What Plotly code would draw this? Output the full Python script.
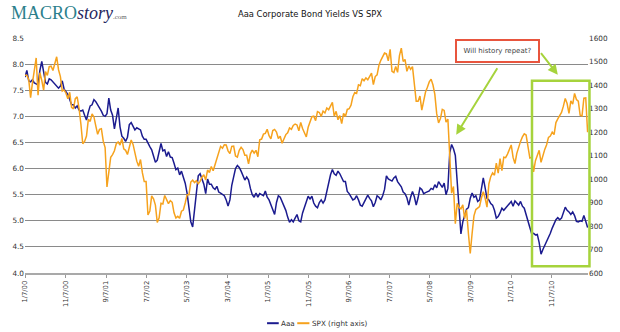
import plotly.graph_objects as go
import pandas as pd

# ---- data (one value every 14 days, Fridays, 2000-01-07 .. 2011-08-05) ----
aaa_2000 = [7.75, 7.88, 7.68, 7.66, 7.70, 7.64, 7.62, 7.60, 7.88, 8.05, 7.85, 7.65, 7.62,
            7.72, 7.70, 7.66, 7.60, 7.56, 7.54, 7.58, 7.68, 7.52, 7.48, 7.42, 7.32, 7.22]
aaa_2001 = [7.22, 7.16, 7.20, 7.12, 7.10, 7.12, 7.02, 6.93, 7.08, 7.20, 7.22, 7.32, 7.28,
            7.22, 7.18, 7.10, 7.02, 7.00, 7.05, 7.35, 7.12, 7.02, 6.76, 7.00, 7.16, 6.80]
aaa_2002 = [6.62, 6.58, 6.52, 6.60, 6.84, 6.88, 6.80, 6.74, 6.78, 6.76, 6.74, 6.62, 6.56,
            6.56, 6.48, 6.42, 6.36, 6.26, 6.12, 6.16, 6.30, 6.48, 6.34, 6.36, 6.23, 6.32]
aaa_2003 = [6.22, 6.21, 6.10, 5.98, 6.01, 5.88, 5.95, 5.82, 5.72, 5.53, 5.25, 4.98, 4.88,
            5.22, 5.62, 5.86, 5.90, 5.80, 5.70, 5.52, 5.80, 5.70, 5.70, 5.63, 5.60, 5.66]
aaa_2004 = [5.55, 5.53, 5.50, 5.48, 5.40, 5.28, 5.40, 5.68, 5.84, 6.00, 6.06, 6.02, 5.95,
            5.88, 5.78, 5.84, 5.78, 5.62, 5.50, 5.45, 5.53, 5.45, 5.52, 5.50, 5.48, 5.57]
aaa_2005 = [5.45, 5.40, 5.30, 5.18, 5.12, 5.35, 5.48, 5.45, 5.36, 5.28, 5.20, 5.07, 4.97,
            5.02, 4.98, 5.05, 5.12, 5.00, 4.98, 5.15, 5.25, 5.38, 5.47, 5.42, 5.47, 5.34]
aaa_2006 = [5.28, 5.25, 5.35, 5.40, 5.34, 5.40, 5.55, 5.75, 5.88, 5.98, 5.90, 5.87, 5.95,
            5.90, 5.82, 5.75, 5.75, 5.56, 5.52, 5.45, 5.40, 5.42, 5.48, 5.40, 5.30, 5.28]
aaa_2007 = [5.36, 5.42, 5.49, 5.43, 5.38, 5.27, 5.35, 5.48, 5.45, 5.40, 5.48, 5.60, 5.86,
            5.80, 5.78, 5.76, 5.82, 5.85, 5.75, 5.70, 5.65, 5.55, 5.52, 5.44, 5.30, 5.45]
aaa_2008 = [5.56, 5.46, 5.30, 5.44, 5.63, 5.60, 5.52, 5.54, 5.56, 5.57, 5.62, 5.60, 5.69,
            5.63, 5.75, 5.70, 5.64, 5.72, 5.50, 5.62, 6.30, 6.46, 6.38, 6.25, 5.75, 5.25]
aaa_2009 = [4.75, 4.98, 5.10, 5.22, 5.25, 5.43, 5.53, 5.45, 5.48, 5.37, 5.40, 5.60, 5.82,
            5.63, 5.43, 5.40, 5.33, 5.30, 5.20, 5.05, 5.08, 5.15, 5.24, 5.20, 5.24, 5.28]
aaa_2010 = [5.34, 5.37, 5.28, 5.38, 5.34, 5.30, 5.37, 5.28, 5.24, 5.10, 4.96, 4.87, 4.75,
            4.76, 4.73, 4.74, 4.58, 4.36, 4.45, 4.52, 4.60, 4.68, 4.76, 4.86, 4.95, 5.02]
aaa_2011 = [5.06, 5.02, 5.05, 5.18, 5.26, 5.20, 5.17, 5.12, 5.17, 5.10, 4.99, 4.98, 5.00,
            4.99, 5.10, 4.99, 4.87]

spx_2000 = [1441, 1441, 1424, 1346, 1409, 1464, 1515, 1357, 1452, 1420, 1378, 1457, 1441,
            1478, 1480, 1462, 1491, 1520, 1465, 1436, 1374, 1379, 1365, 1341, 1369, 1305]
spx_2001 = [1298, 1342, 1350, 1302, 1234, 1150, 1160, 1183, 1254, 1245, 1277, 1264, 1226,
            1190, 1211, 1214, 1161, 1134, 966, 1041, 1092, 1104, 1120, 1150, 1158, 1144]
spx_2002 = [1173, 1128, 1122, 1104, 1131, 1166, 1147, 1111, 1076, 1054, 1083, 1027, 989,
            989, 847, 864, 928, 916, 889, 815, 835, 897, 894, 930, 912, 895]
spx_2003 = [908, 901, 856, 834, 841, 833, 863, 868, 898, 933, 933, 987, 995,
            985, 993, 980, 990, 1008, 1018, 996, 1038, 1028, 1053, 1035, 1061, 1088]
spx_2004 = [1108, 1139, 1131, 1146, 1145, 1120, 1108, 1139, 1140, 1098, 1093, 1122, 1135,
            1125, 1101, 1101, 1064, 1107, 1123, 1110, 1122, 1095, 1167, 1170, 1191, 1194]
spx_2005 = [1212, 1184, 1171, 1206, 1211, 1200, 1172, 1182, 1152, 1171, 1189, 1197, 1217,
            1211, 1228, 1234, 1230, 1205, 1241, 1215, 1195, 1179, 1220, 1248, 1265, 1267]
spx_2006 = [1248, 1287, 1283, 1266, 1289, 1281, 1302, 1295, 1312, 1326, 1267, 1288, 1252,
            1270, 1236, 1279, 1266, 1296, 1299, 1314, 1350, 1368, 1364, 1401, 1397, 1427]
spx_2007 = [1418, 1430, 1422, 1438, 1451, 1402, 1436, 1443, 1484, 1505, 1522, 1536, 1533,
            1503, 1552, 1458, 1453, 1479, 1454, 1525, 1557, 1500, 1509, 1458, 1481, 1467]
spx_2008 = [1478, 1401, 1331, 1331, 1353, 1293, 1330, 1370, 1390, 1413, 1425, 1400, 1360,
            1278, 1239, 1257, 1296, 1292, 1242, 1255, 1099, 940, 968, 810, 896, 879]
spx_2009 = [873, 890, 832, 869, 770, 683, 768, 843, 870, 878, 883, 919, 946,
            918, 880, 979, 1010, 1026, 1016, 1068, 1025, 1087, 1036, 1093, 1091, 1106]
spx_2010 = [1126, 1145, 1092, 1066, 1109, 1139, 1160, 1179, 1192, 1187, 1136, 1089, 1092,
            1030, 1078, 1103, 1122, 1071, 1105, 1126, 1146, 1177, 1183, 1199, 1189, 1240]
spx_2011 = [1256, 1272, 1283, 1310, 1343, 1321, 1279, 1332, 1319, 1364, 1338, 1331, 1271,
            1268, 1344, 1345, 1199]

tick_dates = ["2000-01-07", "2000-11-07", "2001-09-07", "2002-07-07", "2003-05-07",
              "2004-03-07", "2005-01-07", "2005-11-07", "2006-09-07", "2007-07-07",
              "2008-05-07", "2009-03-07", "2010-01-07", "2010-11-07"]
tick_labels = ["1/7/00", "11/7/00", "9/7/01", "7/7/02", "5/7/03", "3/7/04", "1/7/05",
               "11/7/05", "9/7/06", "7/7/07", "5/7/08", "3/7/09", "1/7/10", "11/7/10"]

left_ticks = [4.0, 4.5, 5.0, 5.5, 6.0, 6.5, 7.0, 7.5, 8.0, 8.5]
right_ticks = [600, 700, 800, 900, 1000, 1100, 1200, 1300, 1400, 1500, 1600]

series_names = ["Aaa", "SPX (right axis)"]

# ---- build ----
dates = pd.date_range("2000-01-07", "2011-08-05", freq="14D")
aaa = (aaa_2000 + aaa_2001 + aaa_2002 + aaa_2003 + aaa_2004 + aaa_2005 + aaa_2006 +
       aaa_2007 + aaa_2008 + aaa_2009 + aaa_2010 + aaa_2011)
spx = (spx_2000 + spx_2001 + spx_2002 + spx_2003 + spx_2004 + spx_2005 + spx_2006 +
       spx_2007 + spx_2008 + spx_2009 + spx_2010 + spx_2011)

NAVY = "#1b1b8f"
ORANGE = "#f6a21d"
GREEN = "#a6d33c"
FONT = "DejaVu Sans"

fig = go.Figure()
fig.add_trace(go.Scatter(x=dates, y=aaa, name=series_names[0], mode="lines",
                         line=dict(color=NAVY, width=1.5), yaxis="y"))
fig.add_trace(go.Scatter(x=dates, y=spx, name=series_names[1], mode="lines",
                         line=dict(color=ORANGE, width=1.5), yaxis="y2"))

fig.update_layout(
    width=620, height=332,
    margin=dict(l=18, r=24, t=38, b=59),
    paper_bgcolor="white", plot_bgcolor="white",
    showlegend=False,
    font=dict(family=FONT, size=7.3, color="#333"),
    title=dict(text="Aaa Corporate Bond Yields VS SPX", x=0.5, xref="container",
               y=1 - 14 / 332, yanchor="middle", xanchor="center",
               font=dict(family=FONT, size=8.4, color="#111")),
    xaxis=dict(type="date", range=["2000-01-07", "2011-08-08"],
               tickmode="array", tickvals=tick_dates, ticktext=tick_labels,
               tickangle=-90, tickfont=dict(size=6.8, color="#333"),
               showgrid=False, zeroline=False,
               showline=True, linecolor="#a9a9a9", linewidth=2,
               ticks="outside", ticklen=3, tickcolor="#999", tickwidth=1),
    yaxis=dict(range=[4.0, 8.5], tickmode="array", tickvals=left_ticks,
               tickformat=".1f", showgrid=True, gridcolor="#8a8a8a", gridwidth=1.3,
               zeroline=False, showline=False, ticks="",
               tickfont=dict(size=7.3, color="#333")),
    yaxis2=dict(range=[600, 1600], overlaying="y", side="right", tickmode="array",
                tickvals=right_ticks, showgrid=False, zeroline=False, showline=False,
                ticks="", tickfont=dict(size=7.3, color="#333")),
)

def px_x(px):
    return (px - 18) / 578.0

def px_y(py):
    return (273.3 - py) / 235.0

shapes = [
    # highlight box
    dict(type="rect", xref="paper", yref="paper",
         x0=px_x(538.5), x1=px_x(597.5), y0=px_y(266.5), y1=px_y(81),
         line=dict(color=GREEN, width=2.5), fillcolor="rgba(0,0,0,0)", layer="above"),
    # custom legend swatches
    dict(type="line", xref="paper", yref="paper", x0=px_x(266.5), x1=px_x(278.5),
         y0=px_y(323.5), y1=px_y(323.5), line=dict(color=NAVY, width=2)),
    dict(type="line", xref="paper", yref="paper", x0=px_x(297.5), x1=px_x(310),
         y0=px_y(323.5), y1=px_y(323.5), line=dict(color=ORANGE, width=2)),
]
fig.update_layout(shapes=shapes)

annotations = [
    # logo
    dict(xref="paper", yref="paper", x=px_x(2), y=px_y(13), xanchor="left",
         yanchor="middle", showarrow=False,
         text="<span style='color:#2c7f8c'>MACRO</span>"
              "<span style='color:#26265e'><i>story</i></span>"
              "<span style='font-size:7px;color:#666'>.com</span>",
         font=dict(family="Liberation Serif", size=18)),
    # callout
    dict(xref="paper", yref="paper", x=px_x(503.5), y=px_y(51.7), xanchor="center",
         yanchor="middle", showarrow=False, text="Will history repeat?",
         font=dict(family=FONT, size=7, color="#444"),
         bgcolor="white", bordercolor="#e8553e", borderwidth=2, borderpad=3,
         width=75, height=14),
    # arrows
    dict(xref="paper", yref="paper", x=px_x(460.7), y=px_y(135), ax=42, ay=-68,
         text="", showarrow=True, arrowhead=2, arrowsize=1, arrowwidth=2,
         arrowcolor=GREEN),
    dict(xref="paper", yref="paper", x=px_x(565), y=px_y(75), ax=-18, ay=-23,
         text="", showarrow=True, arrowhead=2, arrowsize=1, arrowwidth=2,
         arrowcolor=GREEN),
    # legend text
    dict(xref="paper", yref="paper", x=px_x(279), y=px_y(323.5), xanchor="left",
         yanchor="middle", showarrow=False, text=series_names[0],
         font=dict(family=FONT, size=7.2, color="#333")),
    dict(xref="paper", yref="paper", x=px_x(311), y=px_y(323.5), xanchor="left",
         yanchor="middle", showarrow=False, text=series_names[1],
         font=dict(family=FONT, size=7.2, color="#333")),
]
fig.update_layout(annotations=annotations)

fig.write_html("out.html")
